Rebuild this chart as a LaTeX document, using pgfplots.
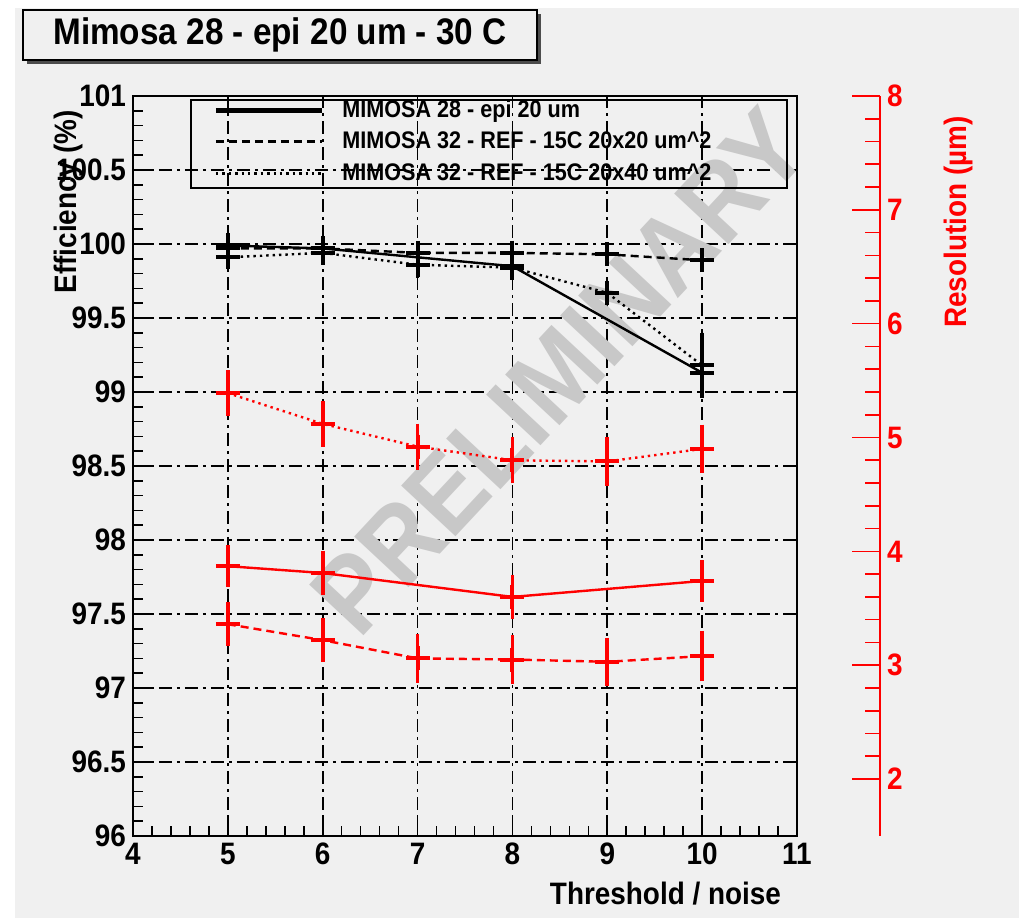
\documentclass[border=0pt]{standalone}
\usepackage{fontspec}
\setmainfont{Liberation Sans}[FakeStretch=0.9]
\usepackage{pgfplots}
\usepackage{pgfplotstable}
\pgfplotsset{compat=1.18}

\definecolor{canvas}{HTML}{F0F0F0}
\definecolor{rootred}{HTML}{FF0000}
\definecolor{wm}{HTML}{C8C8C8}

\newcommand{\tickfont}{\fontsize{15.5}{18}\selectfont\bfseries}

% efficiency (%), black
\pgfplotstableread{
x y e
5 99.99 0.03
6 99.97 0.03
8 99.85 0.04
10 99.13 0.07
}\effA
\pgfplotstableread{
x y e
5 99.97 0.03
6 99.97 0.03
7 99.94 0.03
8 99.94 0.04
9 99.93 0.03
10 99.89 0.04
}\effB
\pgfplotstableread{
x y e
5 99.91 0.03
6 99.94 0.03
7 99.86 0.05
8 99.84 0.04
9 99.67 0.03
10 99.18 0.18
}\effC
% resolution (um), red
\pgfplotstableread{
x y e
5 3.87 0.13
6 3.81 0.14
8 3.60 0.14
10 3.74 0.13
}\resA
\pgfplotstableread{
x y e
5 3.36 0.14
6 3.22 0.14
7 3.06 0.16
8 3.05 0.16
9 3.03 0.16
10 3.08 0.17
}\resB
\pgfplotstableread{
x y e
5 5.39 0.15
6 5.12 0.15
7 4.92 0.15
8 4.80 0.15
9 4.79 0.16
10 4.90 0.16
}\resC

\pgfplotsset{
  /pgf/number format/assume math mode=true,
  pt/.style={mark=+, mark size=6pt, mark options={solid, line width=2pt},
    error bars/.cd, y dir=both, y explicit,
    error bar style={solid, line width=1.8pt},
    error mark options={mark size=3pt, line width=1.8pt}},
}

\begin{document}
\begin{tikzpicture}
\path[use as bounding box] (-66.5pt,-44pt) rectangle (443pt,418pt);
\fill[white] (-66.5pt,-44pt) rectangle (443pt,418pt);
\fill[canvas] (-59pt,-41pt) rectangle (443pt,414pt);

\begin{axis}[
  at={(0pt,0pt)}, anchor=south west,
  scale only axis, width=332pt, height=370pt,
  xmin=4, xmax=11, ymin=96, ymax=101,
  xtick={4,...,11},
  ytick={96,96.5,97,97.5,98,98.5,99,99.5,100,100.5,101},
  minor x tick num=4, minor y tick num=4,
  xtick pos=bottom, ytick pos=left,
  tick align=inside,
  major tick length=10pt, minor tick length=5pt,
  tick style={black, line width=0.8pt},
  axis line style={line width=1pt},
  grid=major,
  grid style={black, line width=0.8pt, dash pattern=on 6.5pt off 2.5pt on 1.5pt off 2.5pt},
  tick label style={font=\tickfont},
  legend cell align=left,
  legend image code/.code={\draw[#1] (0pt,0pt) -- (53pt,0pt);},
  legend style={draw=none, fill=none, inner sep=0pt,
    at={(rel axis cs:0.1205,1.0024)}, anchor=north west,
    font=\fontsize{12}{14}\selectfont\bfseries,
    column sep=9pt, row sep=0pt,
    nodes={inner sep=0pt, minimum height=15.75pt}},
  clip=false,
]
\node[wm, rotate=47, font=\fontsize{54}{56}\selectfont\bfseries] at (axis cs:8.50,99.14) {PRELIMINARY};
\draw[line width=0.8pt] (rel axis cs:0.0873,0.9946) rectangle (rel axis cs:0.985,0.8757);

\addlegendimage{black, line width=2.5pt}
\addlegendentry{MIMOSA 28 - epi 20 um}
\addlegendimage{black, line width=1.5pt, dash pattern=on 4pt off 2.5pt}
\addlegendentry{MIMOSA 32 - REF - 15C 20x20 um\textasciicircum 2}
\addlegendimage{black, line width=1.2pt, dotted}
\addlegendentry{MIMOSA 32 - REF - 15C 20x40 um\textasciicircum 2}

\addplot[black, line width=1.2pt, pt] table[x=x, y=y, y error=e] {\effA};
\addplot[black, line width=1.2pt, dash pattern=on 4pt off 2.5pt, pt] table[x=x, y=y, y error=e] {\effB};
\addplot[black, line width=1.2pt, dotted, pt] table[x=x, y=y, y error=e] {\effC};
\end{axis}

\begin{axis}[
  at={(0pt,0pt)}, anchor=south west,
  scale only axis, width=373.5pt, height=370pt,
  xmin=4, xmax=11.875, ymin=1.5, ymax=8,
  axis x line=none, axis y line*=right,
  y axis line style={rootred, line width=1pt},
  ytick={2,...,8}, minor y tick num=4,
  tick align=inside,
  major tick length=14pt, minor tick length=7.5pt,
  tick style={rootred, line width=0.8pt},
  yticklabel style={rootred, font=\tickfont},
]
\addplot[rootred, line width=1.2pt, pt] table[x=x, y=y, y error=e] {\resA};
\addplot[rootred, line width=1.2pt, dash pattern=on 4pt off 2.5pt, pt] table[x=x, y=y, y error=e] {\resB};
\addplot[rootred, line width=1.2pt, dotted, pt] table[x=x, y=y, y error=e] {\resC};
\end{axis}

\node[rotate=90, font=\tickfont] at (-32.5pt,317pt) {Efficiency (\%)};
\node[rotate=90, font=\tickfont, text=rootred] at (412.5pt,307pt) {Resolution (µm)};
\node[anchor=base east, font=\tickfont] at (327.5pt,-34.5pt) {Threshold / noise};
\fill[black!70] (-53pt,386pt) rectangle (204pt,411pt);
\node[draw, line width=0.8pt, fill=canvas, minimum width=257pt, minimum height=25pt,
  font=\fontsize{18.5}{21}\selectfont\bfseries] at (73.5pt,400.5pt) {Mimosa 28 - epi 20 um - 30 C};
\end{tikzpicture}
\end{document}
